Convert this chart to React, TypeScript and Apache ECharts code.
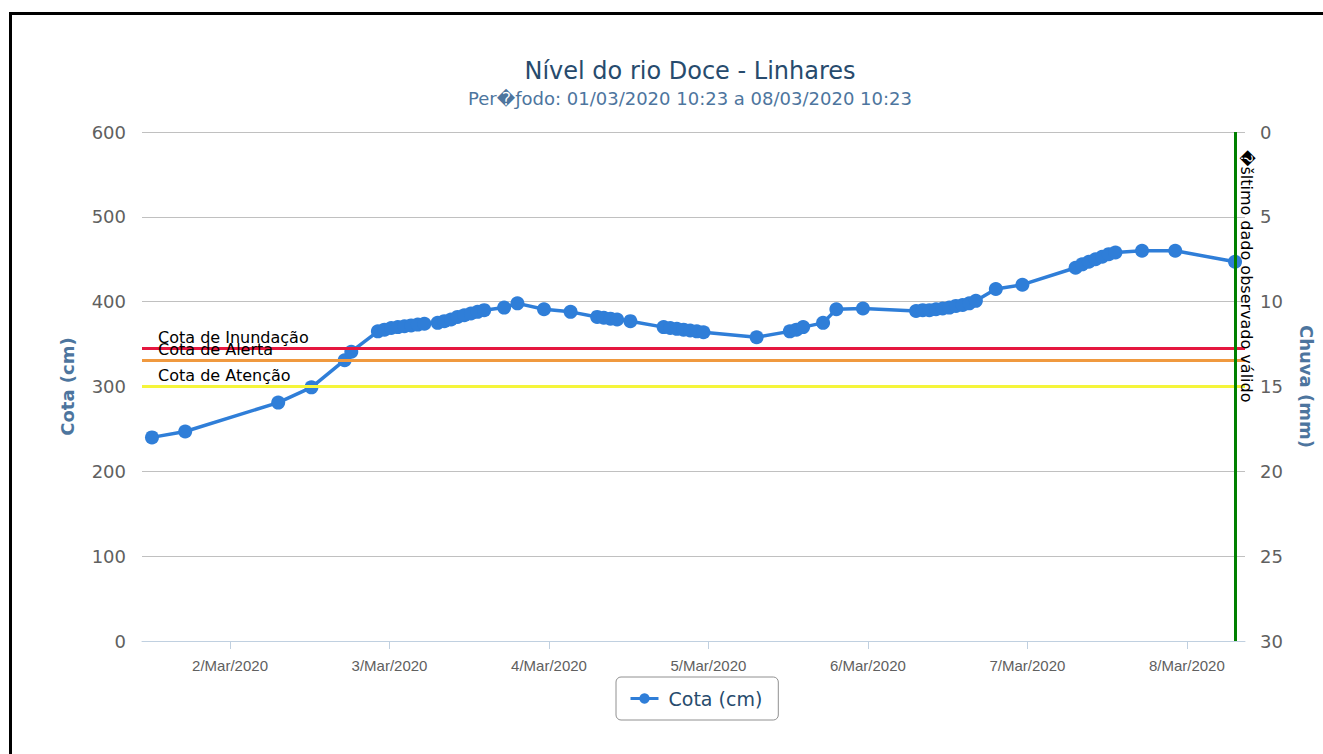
import React, { useEffect, useRef } from 'react';
import * as echarts from 'echarts';

// ---- data ----
const readingTimes: string[] = [
  '2020-03-01T12:15', '2020-03-01T17:15',
  '2020-03-02T07:15', '2020-03-02T12:15', '2020-03-02T17:15', '2020-03-02T18:15',
  '2020-03-02T22:15', '2020-03-02T23:15',
  '2020-03-03T00:15', '2020-03-03T01:15', '2020-03-03T02:15', '2020-03-03T03:15',
  '2020-03-03T04:15', '2020-03-03T05:15', '2020-03-03T07:15', '2020-03-03T08:15',
  '2020-03-03T09:15', '2020-03-03T10:15', '2020-03-03T11:15', '2020-03-03T12:15',
  '2020-03-03T13:15', '2020-03-03T14:15', '2020-03-03T17:15', '2020-03-03T19:15',
  '2020-03-03T23:15',
  '2020-03-04T03:15', '2020-03-04T07:15', '2020-03-04T08:15', '2020-03-04T09:15',
  '2020-03-04T10:15', '2020-03-04T12:15', '2020-03-04T17:15', '2020-03-04T18:15',
  '2020-03-04T19:15', '2020-03-04T20:15', '2020-03-04T21:15', '2020-03-04T22:15',
  '2020-03-04T23:15',
  '2020-03-05T07:15', '2020-03-05T12:15', '2020-03-05T13:15', '2020-03-05T14:15',
  '2020-03-05T17:15', '2020-03-05T19:15', '2020-03-05T23:15',
  '2020-03-06T07:15', '2020-03-06T08:15', '2020-03-06T09:15', '2020-03-06T10:15',
  '2020-03-06T11:15', '2020-03-06T12:15', '2020-03-06T13:15', '2020-03-06T14:15',
  '2020-03-06T15:15', '2020-03-06T16:15', '2020-03-06T19:15', '2020-03-06T23:15',
  '2020-03-07T07:15', '2020-03-07T08:15', '2020-03-07T09:15', '2020-03-07T10:15',
  '2020-03-07T11:15', '2020-03-07T12:15', '2020-03-07T13:15', '2020-03-07T17:15',
  '2020-03-07T22:15',
  '2020-03-08T07:15',
];

const cotaValues: number[] = [
  240, 247,
  281, 299, 331, 341,
  365, 367,
  369, 370, 371, 372,
  373, 374, 375, 377,
  379, 382, 384, 386,
  388, 390, 393, 398,
  391,
  388, 382, 381, 380,
  379, 377, 370, 369,
  368, 367, 366, 365,
  364,
  358, 365, 367, 370,
  375, 391, 392,
  389, 390, 390, 391,
  392, 393, 395, 396,
  398, 401, 415, 420,
  440, 444, 447, 450,
  453, 456, 458, 460,
  460,
  447,
];

const xTickDays: string[] = [
  '2020-03-02', '2020-03-03', '2020-03-04', '2020-03-05',
  '2020-03-06', '2020-03-07', '2020-03-08',
];
const xRange: string[] = ['2020-03-01T10:45', '2020-03-08T08:45'];

const levelNames: string[] = ['Cota de Inundação', 'Cota de Alerta', 'Cota de Atenção'];
const levelValues: number[] = [345, 331, 300];

const titleText = 'Nível do rio Doce - Linhares';
const subtitleText = 'Per\uFFFDƒodo: 01/03/2020 10:23 a 08/03/2020 10:23';
const lastValidText = '\uFFFDšltimo dado observado válido';
const seriesName = 'Cota (cm)';
const leftAxisName = 'Cota (cm)';
const rightAxisName = 'Chuva (mm)';
const monthName = 'Mar';

const toMs = (s: string) => new Date(s + (s.length <= 10 ? 'T00:00' : '') + 'Z').getTime();

export default function App() {
  const ref = useRef<HTMLDivElement>(null);

  useEffect(() => {
    if (!ref.current) return;
    const chart = echarts.init(ref.current, undefined, { renderer: 'svg' });

    const data = readingTimes.map((t, i) => [toMs(t), cotaValues[i]]);
    const tickMs = xTickDays.map(toMs);
    const lastTime = data[data.length - 1][0];
    const levelColors = ['#E5173F', '#F0993F', '#F5F53A'];

    const levelLines = levelNames.map((name, i) => ({
      name,
      yAxis: levelValues[i],
      lineStyle: { color: levelColors[i], width: 3, type: 'solid' },
      label: {
        show: true,
        position: 'insideStartTop',
        formatter: '{b}',
        distance: [16, 3],
        color: '#000',
        fontSize: 16,
        fontFamily: 'DejaVu Sans',
      },
    }));

    const option: any = {
      animation: false,
      backgroundColor: '#ffffff',
      textStyle: { fontFamily: 'DejaVu Sans' },
      graphic: [
        {
          type: 'text',
          x: 690,
          y: 71,
          style: {
            text: titleText,
            fill: '#274b6d',
            fontSize: 24,
            fontFamily: 'DejaVu Sans',
            align: 'center',
            verticalAlign: 'middle',
          },
        },
        {
          type: 'text',
          x: 690,
          y: 98,
          style: {
            text: subtitleText,
            fill: '#4d759e',
            fontSize: 18,
            fontFamily: 'DejaVu Sans',
            align: 'center',
            verticalAlign: 'middle',
          },
        },
      ],
      grid: { left: 142, right: 78, top: 132, bottom: 113, containLabel: false },
      legend: {
        data: [seriesName],
        left: 616,
        top: 677,
        orient: 'horizontal',
        padding: [12, 16, 12, 13],
        itemWidth: 28,
        itemHeight: 13,
        borderColor: '#909090',
        borderWidth: 1,
        borderRadius: 5,
        lineStyle: { width: 3 },
        textStyle: {
          fontSize: 19,
          color: '#274b6d',
          fontFamily: 'DejaVu Sans',
          padding: [0, 0, 0, 5],
        },
      },
      xAxis: {
        type: 'value',
        min: toMs(xRange[0]),
        max: toMs(xRange[1]),
        axisLine: { show: true, lineStyle: { color: '#C0D0E0', width: 1 } },
        axisTick: {
          show: true,
          length: 8,
          lineStyle: { color: '#C0D0E0' },
          customValues: tickMs,
        },
        axisLabel: {
          customValues: tickMs,
          formatter: (v: number) => {
            const d = new Date(v);
            return `${d.getUTCDate()}/${monthName}/${d.getUTCFullYear()}`;
          },
          color: '#606060',
          fontSize: 15,
          fontFamily: 'Liberation Sans',
          margin: 17,
        },
        splitLine: { show: false },
      },
      yAxis: [
        {
          type: 'value',
          min: 0,
          max: 600,
          interval: 100,
          position: 'left',
          name: leftAxisName,
          nameLocation: 'middle',
          nameGap: 66,
          nameTextStyle: {
            color: '#4d759e',
            fontSize: 18,
            fontWeight: 'bold',
            fontFamily: 'DejaVu Sans',
          },
          axisLine: { show: false },
          axisTick: { show: false },
          axisLabel: { color: '#606060', fontSize: 18, fontFamily: 'DejaVu Sans', margin: 16 },
          splitLine: { show: true, lineStyle: { color: '#C0C0C0', width: 1 } },
        },
        {
          type: 'value',
          min: 0,
          max: 30,
          interval: 5,
          inverse: true,
          position: 'right',
          name: rightAxisName,
          nameLocation: 'middle',
          nameRotate: -90,
          nameGap: 52,
          nameTextStyle: {
            color: '#4d759e',
            fontSize: 18,
            fontWeight: 'bold',
            fontFamily: 'DejaVu Sans',
          },
          axisLine: { show: false },
          axisTick: { show: false },
          axisLabel: { color: '#606060', fontSize: 18, fontFamily: 'DejaVu Sans', margin: 15 },
          splitLine: { show: false },
        },
      ],
      series: [
        {
          type: 'line',
          name: seriesName,
          data,
          yAxisIndex: 0,
          symbol: 'circle',
          symbolSize: 14,
          showAllSymbol: true,
          lineStyle: { width: 3.5, color: '#2f7ed8' },
          itemStyle: { color: '#2f7ed8' },
          emphasis: { disabled: true },
          markLine: {
            silent: true,
            symbol: ['none', 'none'],
            animation: false,
            data: [
              ...levelLines,
              [
                {
                  name: lastValidText,
                  coord: [lastTime, 600],
                  lineStyle: { color: '#008000', width: 3, type: 'solid' },
                  label: {
                    show: true,
                    position: 'insideStartTop',
                    formatter: '{b}',
                    distance: 3,
                    padding: [0, 0, 0, 15],
                    color: '#000',
                    fontSize: 16,
                    fontFamily: 'DejaVu Sans',
                  },
                },
                { coord: [lastTime, 0] },
              ],
            ],
          },
        },
      ],
    };

    chart.setOption(option);
    return () => chart.dispose();
  }, []);

  return (
    <div style={{ position: 'absolute', left: 0, top: 0, width: 1323, height: 754, overflow: 'hidden', background: '#fff' }}>
      <div ref={ref} style={{ position: 'absolute', left: 0, top: 0, width: 1323, height: 754 }} />
      <div
        style={{
          position: 'absolute',
          left: 9,
          top: 12,
          width: 1400,
          height: 800,
          borderLeft: '3px solid #000',
          borderTop: '3px solid #000',
          pointerEvents: 'none',
        }}
      />
    </div>
  );
}
